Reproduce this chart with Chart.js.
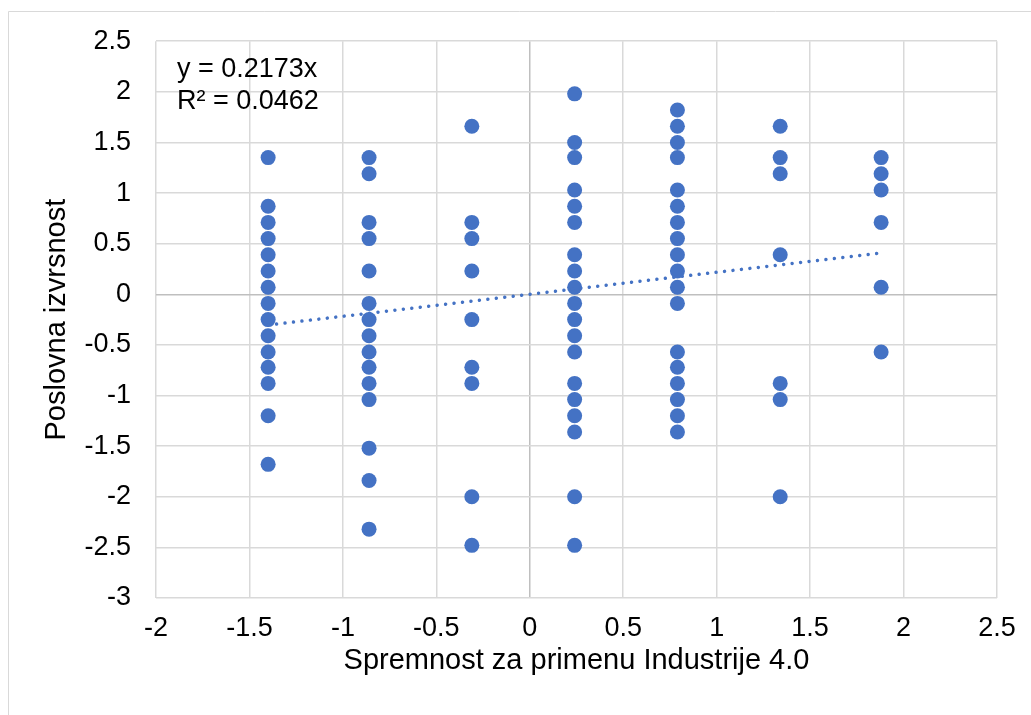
<!DOCTYPE html>
<html>
<head>
<meta charset="utf-8">
<script src="https://cdn.jsdelivr.net/npm/chart.js@4/dist/chart.umd.min.js"></script>
<style>
  html, body { margin: 0; padding: 0; background: #ffffff; }
  #wrap { width: 1031px; height: 715px; position: relative; }
</style>
</head>
<body>
<div id="wrap"><canvas id="c" width="1031" height="715"></canvas></div>
<script>
// ---- Data ----
const columnX = [-1.40, -0.86, -0.31, 0.24, 0.79, 1.34, 1.88];
const colA = [1.35, 0.87, 0.71, 0.55, 0.39, 0.23, 0.07, -0.09, -0.25, -0.41, -0.57, -0.72, -0.88, -1.20, -1.68];
const colB = [1.35, 1.19, 0.71, 0.55, 0.23, -0.09, -0.25, -0.41, -0.57, -0.72, -0.88, -1.04, -1.52, -1.84, -2.32];
const colC = [1.66, 0.71, 0.55, 0.23, -0.25, -0.72, -0.88, -2.00, -2.48];
const colD = [1.98, 1.50, 1.35, 1.03, 0.87, 0.71, 0.39, 0.23, 0.07, -0.09, -0.25, -0.41, -0.57, -0.88, -1.04, -1.20, -1.36, -2.00, -2.48];
const colE = [1.82, 1.66, 1.50, 1.35, 1.03, 0.87, 0.71, 0.55, 0.39, 0.23, 0.07, -0.09, -0.57, -0.72, -0.88, -1.04, -1.20, -1.36];
const colF = [1.66, 1.35, 1.19, 0.39, -0.88, -1.04, -2.00];
const colG = [1.35, 1.19, 1.03, 0.71, 0.07, -0.57];
const columnsY = [colA, colB, colC, colD, colE, colF, colG];

const trendSlope = 0.2173;
const equationText = "y = 0.2173x";
const r2Text = "R² = 0.0462";
const xTitle = "Spremnost za primenu Industrije 4.0";
const yTitle = "Poslovna izvrsnost";

// ---- Build datasets ----
const points = [];
columnX.forEach((x, i) => columnsY[i].forEach(y => points.push({x: x, y: y})));
const xMinData = Math.min(...columnX), xMaxData = Math.max(...columnX);
const trendPoints = [
  {x: xMinData, y: trendSlope * xMinData},
  {x: xMaxData, y: trendSlope * xMaxData}
];

const BLUE = '#4472C4';
const GRID = '#d9d9d9';
const ZERO = '#bfbfbf';
const FONT = "'Liberation Sans', Arial, sans-serif";

const framePlugin = {
  id: 'frame',
  beforeDraw(chart) {
    const ctx = chart.ctx;
    ctx.save();
    ctx.fillStyle = '#ffffff';
    ctx.fillRect(0, 0, chart.width, chart.height);
    ctx.strokeStyle = GRID;
    ctx.lineWidth = 1;
    ctx.beginPath();
    ctx.moveTo(8.5, chart.height);
    ctx.lineTo(8.5, 11.5);
    ctx.lineTo(chart.width, 11.5);
    ctx.stroke();
    ctx.restore();
  },
  afterDatasetsDraw(chart) {
    const ctx = chart.ctx;
    ctx.save();
    ctx.fillStyle = '#000000';
    ctx.font = "27px " + FONT;
    ctx.textBaseline = 'alphabetic';
    ctx.textAlign = 'left';
    ctx.fillText(equationText, 177, 77);
    ctx.fillText(r2Text, 177, 109);
    ctx.restore();
  }
};

const gridColor = (c) => (c.tick && c.tick.value === 0) ? ZERO : GRID;

new Chart(document.getElementById('c'), {
  type: 'scatter',
  data: {
    datasets: [
      {
        type: 'line',
        data: trendPoints,
        borderColor: BLUE,
        borderWidth: 3.5,
        borderDash: [0.01, 8.5],
        borderCapStyle: 'round',
        pointRadius: 0,
        fill: false,
        order: 0
      },
      {
        data: points,
        backgroundColor: BLUE,
        borderColor: BLUE,
        borderWidth: 0,
        pointRadius: 7.5,
        pointHoverRadius: 7.5,
        order: 1
      }
    ]
  },
  options: {
    responsive: false,
    animation: false,
    events: [],
    layout: { padding: { left: 10, top: 40, right: 34, bottom: 37 } },
    plugins: { legend: { display: false }, tooltip: { enabled: false } },
    scales: {
      x: {
        type: 'linear',
        min: -2, max: 2.5,
        afterFit(scale) { scale.height = 80; },
        ticks: {
          stepSize: 0.5,
          padding: 14,
          color: '#000000',
          font: { family: FONT, size: 27 },
          callback: (v) => String(Math.round(v * 10) / 10)
        },
        grid: { color: gridColor, lineWidth: 1.5, drawTicks: false },
        border: { display: false },
        title: {
          display: true,
          text: xTitle,
          color: '#000000',
          font: { family: FONT, size: 29 },
          padding: { top: 0, bottom: 0 }
        }
      },
      y: {
        type: 'linear',
        min: -3, max: 2.5,
        afterFit(scale) { scale.width = 146; },
        ticks: {
          stepSize: 0.5,
          padding: 25,
          color: '#000000',
          font: { family: FONT, size: 27 },
          callback: (v) => String(Math.round(v * 10) / 10)
        },
        grid: { color: gridColor, lineWidth: 1.5, drawTicks: false },
        border: { display: false },
        title: {
          display: true,
          text: yTitle,
          color: '#000000',
          font: { family: FONT, size: 29 },
          padding: { top: 30, bottom: 0 }
        }
      }
    }
  },
  plugins: [framePlugin]
});
</script>
</body>
</html>
